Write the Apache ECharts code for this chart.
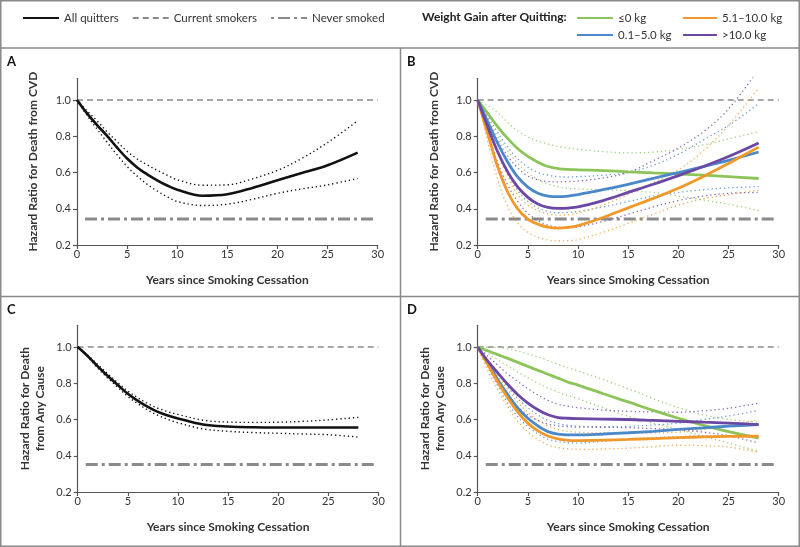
<!DOCTYPE html>
<html>
<head>
<meta charset="utf-8">
<script src="https://cdn.jsdelivr.net/npm/echarts@6/dist/echarts.min.js"></script>
<style>html,body{margin:0;padding:0;background:#fff;}#c{width:800px;height:547px;}</style>
</head>
<body>
<div id="c"></div>
<script>
// ---------- data ----------
var years = [0, 1, 2, 3, 4, 5, 6, 7, 8, 9, 10, 12.5, 15, 17.5, 20, 22.5, 25, 28];
var yTicks = [0.2, 0.4, 0.6, 0.8, 1.0];
var currentSmokersHR = 1.0;
var neverSmokedCVD = 0.343;
var neverSmokedAny = 0.352;
var refSpan = [0.8, 29.8];

// Panel A – all quitters, death from CVD
var aMain  = [1.0, 0.926, 0.862, 0.802, 0.737, 0.677, 0.628, 0.590, 0.557, 0.528, 0.505, 0.472, 0.480, 0.515, 0.557, 0.598, 0.640, 0.710];
var aUpper = [1.0, 0.940, 0.885, 0.825, 0.770, 0.717, 0.675, 0.642, 0.612, 0.585, 0.560, 0.530, 0.532, 0.565, 0.612, 0.680, 0.765, 0.885];
var aLower = [1.0, 0.915, 0.840, 0.767, 0.697, 0.633, 0.580, 0.535, 0.498, 0.466, 0.440, 0.418, 0.425, 0.452, 0.485, 0.510, 0.532, 0.567];

// Panel B – by weight gain, death from CVD
var bGreen   = [1.0, 0.926, 0.852, 0.787, 0.731, 0.689, 0.657, 0.633, 0.622, 0.617, 0.615, 0.610, 0.604, 0.598, 0.592, 0.585, 0.577, 0.567];
var bGreenU  = [1.0, 0.970, 0.930, 0.875, 0.830, 0.795, 0.775, 0.757, 0.743, 0.735, 0.728, 0.715, 0.708, 0.713, 0.728, 0.752, 0.785, 0.825];
var bGreenL  = [1.0, 0.900, 0.800, 0.720, 0.650, 0.598, 0.562, 0.537, 0.522, 0.513, 0.510, 0.505, 0.500, 0.490, 0.470, 0.448, 0.425, 0.390];
var bBlue    = [1.0, 0.880, 0.760, 0.657, 0.574, 0.519, 0.485, 0.470, 0.467, 0.470, 0.478, 0.505, 0.535, 0.568, 0.600, 0.633, 0.667, 0.713];
var bBlueU   = [1.0, 0.910, 0.820, 0.740, 0.675, 0.630, 0.600, 0.585, 0.577, 0.575, 0.577, 0.585, 0.600, 0.640, 0.700, 0.780, 0.860, 0.980];
var bBlueL   = [1.0, 0.850, 0.710, 0.590, 0.500, 0.440, 0.405, 0.385, 0.378, 0.380, 0.385, 0.410, 0.440, 0.470, 0.490, 0.505, 0.515, 0.522];
var bOrange  = [1.0, 0.815, 0.630, 0.491, 0.398, 0.343, 0.315, 0.298, 0.293, 0.297, 0.307, 0.352, 0.405, 0.457, 0.513, 0.578, 0.650, 0.740];
var bOrangeU = [1.0, 0.860, 0.710, 0.580, 0.475, 0.420, 0.390, 0.372, 0.365, 0.367, 0.375, 0.420, 0.480, 0.545, 0.615, 0.720, 0.860, 1.065];
var bOrangeL = [1.0, 0.770, 0.560, 0.410, 0.320, 0.270, 0.243, 0.228, 0.222, 0.224, 0.230, 0.270, 0.320, 0.370, 0.420, 0.455, 0.478, 0.503];
var bPurple  = [1.0, 0.852, 0.713, 0.602, 0.519, 0.463, 0.426, 0.407, 0.402, 0.404, 0.410, 0.445, 0.490, 0.535, 0.583, 0.633, 0.688, 0.763];
var bPurpleU = [1.0, 0.890, 0.780, 0.690, 0.625, 0.580, 0.560, 0.550, 0.548, 0.550, 0.553, 0.570, 0.600, 0.665, 0.735, 0.825, 0.950, 1.170];
var bPurpleL = [1.0, 0.820, 0.655, 0.530, 0.440, 0.375, 0.335, 0.310, 0.298, 0.295, 0.300, 0.330, 0.370, 0.410, 0.445, 0.470, 0.485, 0.490];

// Panel C – all quitters, death from any cause
var cMain  = [1.0, 0.950, 0.893, 0.840, 0.790, 0.742, 0.703, 0.670, 0.642, 0.622, 0.606, 0.572, 0.561, 0.557, 0.556, 0.556, 0.556, 0.556];
var cUpper = [1.0, 0.955, 0.903, 0.852, 0.803, 0.757, 0.720, 0.688, 0.662, 0.643, 0.628, 0.596, 0.586, 0.584, 0.585, 0.590, 0.598, 0.612];
var cLower = [1.0, 0.945, 0.883, 0.828, 0.777, 0.727, 0.687, 0.652, 0.623, 0.600, 0.582, 0.548, 0.535, 0.528, 0.524, 0.520, 0.516, 0.503];

// Panel D – by weight gain, death from any cause
var dGreen   = [1.0, 0.979, 0.958, 0.937, 0.915, 0.893, 0.871, 0.850, 0.828, 0.806, 0.790, 0.742, 0.697, 0.650, 0.607, 0.568, 0.533, 0.497];
var dGreenU  = [1.0, 1.000, 0.998, 0.990, 0.978, 0.962, 0.945, 0.925, 0.905, 0.885, 0.868, 0.820, 0.770, 0.715, 0.665, 0.625, 0.600, 0.585];
var dGreenL  = [1.0, 0.965, 0.930, 0.895, 0.862, 0.830, 0.800, 0.775, 0.752, 0.732, 0.715, 0.665, 0.618, 0.580, 0.545, 0.508, 0.470, 0.425];
var dBlue    = [1.0, 0.913, 0.820, 0.737, 0.663, 0.607, 0.565, 0.533, 0.519, 0.515, 0.515, 0.520, 0.527, 0.535, 0.545, 0.554, 0.563, 0.572];
var dBlueU   = [1.0, 0.930, 0.855, 0.780, 0.715, 0.665, 0.625, 0.595, 0.578, 0.568, 0.563, 0.560, 0.562, 0.570, 0.580, 0.600, 0.620, 0.650];
var dBlueL   = [1.0, 0.890, 0.785, 0.690, 0.615, 0.560, 0.520, 0.492, 0.478, 0.472, 0.470, 0.480, 0.490, 0.500, 0.505, 0.510, 0.510, 0.500];
var dOrange  = [1.0, 0.904, 0.807, 0.719, 0.641, 0.580, 0.537, 0.509, 0.493, 0.485, 0.484, 0.486, 0.490, 0.495, 0.500, 0.504, 0.507, 0.508];
var dOrangeU = [1.0, 0.920, 0.840, 0.765, 0.695, 0.640, 0.595, 0.565, 0.545, 0.535, 0.530, 0.525, 0.524, 0.526, 0.530, 0.545, 0.565, 0.600];
var dOrangeL = [1.0, 0.870, 0.765, 0.670, 0.590, 0.530, 0.490, 0.460, 0.445, 0.438, 0.435, 0.437, 0.442, 0.450, 0.458, 0.455, 0.448, 0.420];
var dPurple  = [1.0, 0.922, 0.857, 0.793, 0.737, 0.691, 0.654, 0.626, 0.611, 0.607, 0.605, 0.602, 0.600, 0.595, 0.590, 0.585, 0.580, 0.572];
var dPurpleU = [1.0, 0.950, 0.900, 0.850, 0.810, 0.770, 0.735, 0.705, 0.685, 0.673, 0.665, 0.652, 0.645, 0.642, 0.640, 0.648, 0.662, 0.690];
var dPurpleL = [1.0, 0.900, 0.810, 0.730, 0.670, 0.625, 0.595, 0.575, 0.565, 0.560, 0.558, 0.557, 0.555, 0.550, 0.543, 0.530, 0.510, 0.470];

var groupNames = ['≤0 kg', '0.1–5.0 kg', '5.1–10.0 kg', '>10.0 kg'];
var groupColors = ['#8cc45a', '#4a88c9', '#f0982a', '#6a48a3'];

// ---------- build ----------
function pts(ys) { return years.map(function (x, i) { return [x, ys[i]]; }); }
var FONT = 'Lato';
var AXC = '#555';
var grids = [
  {left: 77, top: 78.25, width: 300.7, height: 166.75},
  {left: 477.7, top: 78.25, width: 301, height: 166.75},
  {left: 77.7, top: 325.25, width: 300.7, height: 166.75},
  {left: 477.7, top: 325.25, width: 301, height: 166.75}
];
var yNames = ['Hazard Ratio for Death from CVD', 'Hazard Ratio for Death from CVD',
              'Hazard Ratio for Death\nfrom Any Cause', 'Hazard Ratio for Death\nfrom Any Cause'];
var xAxes = [], yAxes = [], series = [];
for (var g = 0; g < 4; g++) {
  xAxes.push({
    type: 'value', gridIndex: g, min: 0, max: 30, interval: 5,
    axisLine: {lineStyle: {color: AXC, width: 1.2}},
    axisTick: {length: 4, lineStyle: {color: AXC, width: 1.2}},
    axisLabel: {fontSize: 11, color: '#333', margin: 4, fontFamily: FONT},
    splitLine: {show: false},
    name: 'Years since Smoking Cessation', nameLocation: 'middle', nameGap: 29,
    nameTextStyle: {fontSize: 12, fontWeight: 'bold', color: '#333', fontFamily: FONT}
  });
  yAxes.push({
    type: 'value', gridIndex: g, min: 0.2, max: 1.12, interval: 0.2,
    axisLine: {show: true, lineStyle: {color: AXC, width: 1.2}},
    axisTick: {show: true, length: 4, customValues: yTicks, lineStyle: {color: AXC, width: 1.2}},
    axisLabel: {fontSize: 11, color: '#333', margin: 6, fontFamily: FONT, customValues: yTicks,
                formatter: function (v) { return v.toFixed(1); }},
    splitLine: {show: false},
    name: yNames[g], nameLocation: 'middle', nameGap: g < 2 ? 36 : 30,
    nameTextStyle: {fontSize: 12, fontWeight: 'bold', color: '#333', fontFamily: FONT, lineHeight: 15}
  });
  var nv = g < 2 ? neverSmokedCVD : neverSmokedAny;
  series.push({
    name: 'Current smokers', type: 'line', xAxisIndex: g, yAxisIndex: g, symbol: 'none', silent: true,
    data: [[0, currentSmokersHR], [30, currentSmokersHR]],
    lineStyle: {color: '#8a8a8a', width: 1.6, type: [6, 4]}, itemStyle: {color: '#8a8a8a'}, z: 1
  });
  series.push({
    name: 'Never smoked', type: 'line', xAxisIndex: g, yAxisIndex: g, symbol: 'none', silent: true,
    data: [[refSpan[0], nv], [refSpan[1], nv]],
    lineStyle: {color: '#8a8a8a', width: 3, type: [12, 4, 3, 4]}, itemStyle: {color: '#8a8a8a'}, z: 1
  });
}
function ci(g, ys, color, opacity, width) {
  series.push({
    name: 'ci', type: 'line', xAxisIndex: g, yAxisIndex: g, symbol: 'none', smooth: 0.35, silent: true,
    data: pts(ys), lineStyle: {color: color, width: width, type: [1.3, 2.9], opacity: opacity}, z: 2
  });
}
function main(g, name, ys, color, width) {
  series.push({
    name: name, type: 'line', xAxisIndex: g, yAxisIndex: g, symbol: 'none', smooth: 0.35, silent: true,
    data: pts(ys), lineStyle: {color: color, width: width}, itemStyle: {color: color}, z: 4
  });
}
ci(0, aUpper, '#111', 1, 1.4); ci(0, aLower, '#111', 1, 1.4);
main(0, 'All quitters', aMain, '#111', 2.6);
ci(2, cUpper, '#111', 1, 1.4); ci(2, cLower, '#111', 1, 1.4);
main(2, 'All quitters', cMain, '#111', 2.6);
var bSets = [[bGreen, bGreenU, bGreenL], [bBlue, bBlueU, bBlueL], [bOrange, bOrangeU, bOrangeL], [bPurple, bPurpleU, bPurpleL]];
var dSets = [[dGreen, dGreenU, dGreenL], [dBlue, dBlueU, dBlueL], [dOrange, dOrangeU, dOrangeL], [dPurple, dPurpleU, dPurpleL]];
for (var k = 0; k < 4; k++) {
  ci(1, bSets[k][1], groupColors[k], 0.8, 1.3); ci(1, bSets[k][2], groupColors[k], 0.8, 1.3);
  ci(3, dSets[k][1], groupColors[k], 0.8, 1.3); ci(3, dSets[k][2], groupColors[k], 0.8, 1.3);
}
for (var k2 = 0; k2 < 4; k2++) {
  main(1, groupNames[k2], bSets[k2][0], groupColors[k2], 2.8);
  main(3, groupNames[k2], dSets[k2][0], groupColors[k2], 2.8);
}

var legendText = {fontSize: 11.5, color: '#333', fontFamily: FONT};
var hideSym = {opacity: 0, color: 'transparent', borderWidth: 0};
var option = {
  animation: false,
  backgroundColor: '#fff',
  grid: grids,
  xAxis: xAxes,
  yAxis: yAxes,
  legend: [
    {left: 22, top: 12, padding: 0, itemWidth: 36, itemHeight: 12, itemGap: 13, textStyle: legendText,
     itemStyle: hideSym, selectedMode: false,
     data: ['All quitters', 'Current smokers',
            {name: 'Never smoked', lineStyle: {dashOffset: 16}}]},
    {left: 576, top: 12, padding: 0, orient: 'vertical', itemWidth: 36, itemHeight: 12, itemGap: 5,
     textStyle: legendText, itemStyle: hideSym, selectedMode: false, data: ['≤0 kg', '0.1–5.0 kg']},
    {left: 682, top: 12, padding: 0, orient: 'vertical', itemWidth: 34, itemHeight: 12, itemGap: 5,
     textStyle: legendText, itemStyle: hideSym, selectedMode: false, data: ['5.1–10.0 kg', '>10.0 kg']}
  ],
  graphic: [
    {type: 'rect', shape: {x: 0.75, y: 0.75, width: 798.5, height: 545.5}, style: {fill: 'none', stroke: '#8a8a8a', lineWidth: 1.5}, silent: true},
    {type: 'line', shape: {x1: 0, y1: 48, x2: 800, y2: 48}, style: {stroke: '#8a8a8a', lineWidth: 1.5}, silent: true},
    {type: 'line', shape: {x1: 0, y1: 296.5, x2: 800, y2: 296.5}, style: {stroke: '#8a8a8a', lineWidth: 1.5}, silent: true},
    {type: 'line', shape: {x1: 400.5, y1: 48, x2: 400.5, y2: 547}, style: {stroke: '#8a8a8a', lineWidth: 1.5}, silent: true},
    {type: 'text', left: 422, top: 11, style: {text: 'Weight Gain after Quitting:', font: 'bold 12px Lato', fill: '#222'}},
    {type: 'text', left: 7, top: 55, style: {text: 'A', font: 'bold 13px Lato', fill: '#111'}},
    {type: 'text', left: 407, top: 55, style: {text: 'B', font: 'bold 13px Lato', fill: '#111'}},
    {type: 'text', left: 7, top: 303, style: {text: 'C', font: 'bold 13px Lato', fill: '#111'}},
    {type: 'text', left: 407, top: 303, style: {text: 'D', font: 'bold 13px Lato', fill: '#111'}}
  ],
  series: series
};
var chart = echarts.init(document.getElementById('c'), null, {renderer: 'canvas'});
chart.setOption(option);
</script>
</body>
</html>
